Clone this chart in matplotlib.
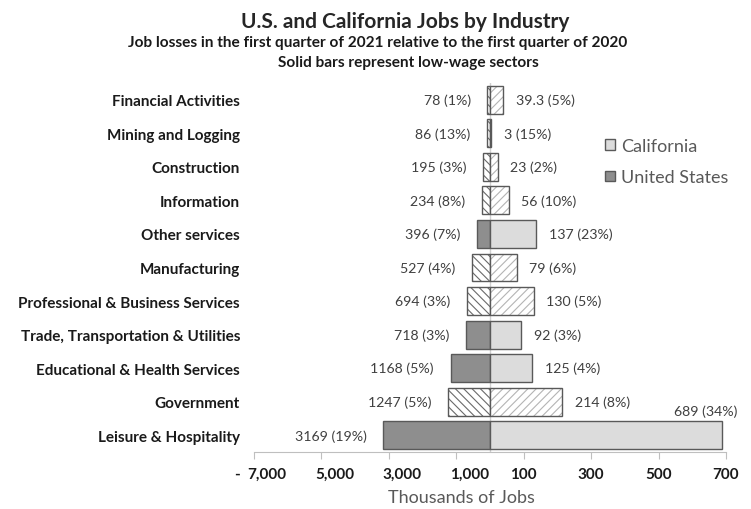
import numpy as np
import matplotlib
matplotlib.use("Agg")
import matplotlib.pyplot as plt
from matplotlib.patches import Patch
from matplotlib.transforms import ScaledTranslation

plt.rcParams['font.family'] = ['Lato', 'DejaVu Sans']
plt.rcParams['hatch.linewidth'] = 0.8

# data, thousands of jobs lost Q1 2021 vs Q1 2020
industries = ["Financial Activities", "Mining and Logging", "Construction", "Information",
              "Other services", "Manufacturing", "Professional & Business Services",
              "Trade, Transportation & Utilities", "Educational & Health Services",
              "Government", "Leisure & Hospitality"]
us_loss = [78, 86, 195, 234, 396, 527, 694, 718, 1168, 1247, 3169]
us_pct = [1, 13, 3, 8, 7, 4, 3, 3, 5, 5, 19]
ca_loss = [39.3, 3, 23, 56, 137, 79, 130, 92, 125, 214, 689]
ca_pct = [5, 15, 2, 10, 23, 6, 5, 3, 4, 8, 34]
low_wage = [False, False, False, False, True, False, False, True, True, False, True]
us_scale = 10  # US bars drawn at 1/10 so both sides fit
xticks = [-700, -500, -300, -100, 100, 300, 500, 700]
xtick_labels = ["7,000", "5,000", "3,000", "1,000", "100", "300", "500", "700"]

us_fill, ca_fill = "#8e8e8e", "#dcdcdc"
us_hatch, ca_hatch = "#6a6a6a", "#b4b4b4"
edge = "#595959"

fig = plt.figure(figsize=(7.51, 5.10), dpi=100)
ax = fig.add_axes([254 / 751, 57 / 510, 472 / 751, 369 / 510])

y = np.arange(len(industries))
us_x = -np.array(us_loss) / us_scale
ca_x = np.array(ca_loss)
low = np.array(low_wage)
h = 0.83

ax.axvline(0, color="#d0d0d0", lw=1, zorder=0)

# low-wage sectors: solid bars
ax.barh(y[low], us_x[low], height=h, color=us_fill, edgecolor=edge, lw=1)
ax.barh(y[low], ca_x[low], height=h, color=ca_fill, edgecolor=edge, lw=1)
# other sectors: hatched bars (hatch drawn first, outline on top)
ax.barh(y[~low], us_x[~low], height=h, color="white", edgecolor=us_hatch, hatch="\\\\\\\\", lw=0)
ax.barh(y[~low], us_x[~low], height=h, fill=False, edgecolor=edge, lw=1)
ax.barh(y[~low], ca_x[~low], height=h, color="white", edgecolor=ca_hatch, hatch="////", lw=0)
ax.barh(y[~low], ca_x[~low], height=h, fill=False, edgecolor=edge, lw=1)

for i in range(len(industries)):
    ax.annotate(f"{us_loss[i]} ({us_pct[i]}%)", xy=(us_x[i], y[i]), xytext=(-12, 0),
                textcoords="offset points", ha="right", va="center", fontsize=10.2, color="#404040")
    if i == len(industries) - 1:
        ax.annotate(f"{ca_loss[i]} ({ca_pct[i]}%)", xy=(ca_x[i], y[i]), xytext=(-12, 18),
                    textcoords="offset points", ha="center", va="center", fontsize=10.2, color="#404040")
    else:
        ax.annotate(f"{ca_loss[i]} ({ca_pct[i]}%)", xy=(ca_x[i], y[i]), xytext=(9, 0),
                    textcoords="offset points", ha="left", va="center", fontsize=10.2, color="#404040")

ax.set_xlim(-700, 700)
ax.set_ylim(len(industries) - 0.5, -0.5)
ax.set_yticks(y, industries, fontweight="bold", fontsize=11, color="#1a1a1a")
ax.tick_params(axis="y", length=0, pad=10)
ax.set_xticks(xticks, xtick_labels, fontweight="bold", fontsize=11, color="#1a1a1a")
ax.tick_params(axis="x", length=5, color="#bfbfbf", pad=6)
for t, lab in zip(xticks, ax.get_xticklabels()):
    if t < 0:
        lab.set_transform(lab.get_transform() + ScaledTranslation(13 / 100, 0, fig.dpi_scale_trans))
for s in ["top", "right", "left"]:
    ax.spines[s].set_visible(False)
ax.spines["bottom"].set_color("#bfbfbf")

fig.text(237 / 751, 1 - 475 / 510, "-", ha="center", va="center", fontsize=11, fontweight="bold", color="#1a1a1a")
fig.text(461 / 751, 1 - 498 / 510, "Thousands of Jobs", ha="center", va="center", fontsize=13, color="#595959")

fig.text(405 / 751, 1 - 22 / 510, "U.S. and California Jobs by Industry", ha="center", va="center",
         fontsize=15, fontweight="bold", color="#262626")
fig.text(378 / 751, 1 - 43 / 510, "Job losses in the first quarter of 2021 relative to the first quarter of 2020",
         ha="center", va="center", fontsize=11.1, fontweight="bold", color="#1a1a1a")
fig.text(408 / 751, 1 - 63 / 510, "Solid bars represent low-wage sectors", ha="center", va="center",
         fontsize=11.1, fontweight="bold", color="#1a1a1a")

handles = [Patch(facecolor=ca_fill, edgecolor=edge), Patch(facecolor=us_fill, edgecolor=edge)]
fig.legend(handles, ["California", "United States"], loc="upper left", bbox_to_anchor=(605 / 751, 1 - 139 / 510),
           frameon=False, handlelength=0.55, handleheight=0.55, handletextpad=0.35, labelspacing=0.85,
           fontsize=13, labelcolor="#595959", borderpad=0, borderaxespad=0)

fig.savefig("out.png", dpi=100)
